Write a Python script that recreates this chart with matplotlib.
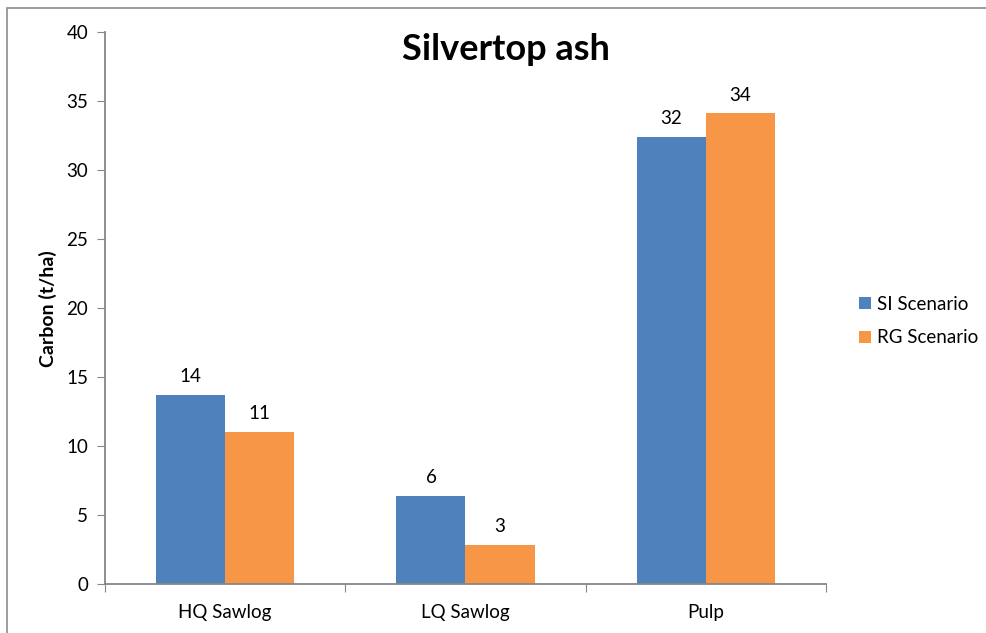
import matplotlib
matplotlib.use("Agg")
import matplotlib.pyplot as plt
from matplotlib.patches import Rectangle
import numpy as np

plt.rcParams['font.family'] = ['Lato', 'DejaVu Sans']

# data
categories = ['HQ Sawlog', 'LQ Sawlog', 'Pulp']
si_values = [13.7, 6.4, 32.4]
rg_values = [11.05, 2.88, 34.1]
series_names = ['SI Scenario', 'RG Scenario']
y_ticks = [0, 5, 10, 15, 20, 25, 30, 35, 40]

blue = '#4F81BD'
orange = '#F79646'
axis_grey = '#868686'

fig = plt.figure(figsize=(9.87, 6.33), dpi=100)
ax = fig.add_axes([105/987, 1 - 584.3/633, (826 - 105)/987, (584.3 - 32)/633])

# outer chart border
fig.patches.append(Rectangle((7/987, -0.1), 1.2, 1.1 - 8/633,
                             transform=fig.transFigure, fill=False,
                             edgecolor='#8c8c8c', linewidth=1.2))

x = np.arange(len(categories))
w = 0.2875
b1 = ax.bar(x - w/2, si_values, w, color=blue, label=series_names[0])
b2 = ax.bar(x + w/2, rg_values, w, color=orange, label=series_names[1])

for bars in (b1, b2):
    for bar in bars:
        h = bar.get_height()
        ax.annotate(f"{h:.0f}", (bar.get_x() + bar.get_width()/2, h),
                    xytext=(0, 7), textcoords='offset points',
                    ha='center', va='bottom', fontsize=13.5, color='black')

ax.set_xlim(-0.5, 2.5)
ax.set_ylim(0, 40)
ax.set_yticks(y_ticks)
ax.tick_params(axis='y', direction='out', length=6, color=axis_grey,
               labelsize=13.5, pad=6)

# category boundaries as major ticks, labels on minor ticks
ax.set_xticks([-0.5, 0.5, 1.5, 2.5])
ax.set_xticklabels([])
ax.set_xticks(x, minor=True)
ax.set_xticklabels(categories, minor=True)
ax.tick_params(axis='x', which='major', direction='out', length=6, color=axis_grey)
ax.tick_params(axis='x', which='minor', length=0, labelsize=13.5, pad=14)

for side in ('top', 'right'):
    ax.spines[side].set_visible(False)
for side in ('left', 'bottom'):
    ax.spines[side].set_color(axis_grey)
    ax.spines[side].set_linewidth(1.3)

ax.set_ylabel('Carbon (t/ha)', fontsize=14, fontweight='bold', labelpad=7)
fig.text(506/987, 1 - 49/633, 'Silvertop ash', ha='center', va='center',
         fontsize=26, fontweight='bold')

leg = fig.legend(handles=[b1, b2], loc='center left',
                 bbox_to_anchor=(859/987, 1 - 321/633), frameon=False,
                 fontsize=13.5, handlelength=0.65, handleheight=0.65,
                 handletextpad=0.3, labelspacing=0.9,
                 borderpad=0, borderaxespad=0)

fig.savefig('out.png', dpi=100)
